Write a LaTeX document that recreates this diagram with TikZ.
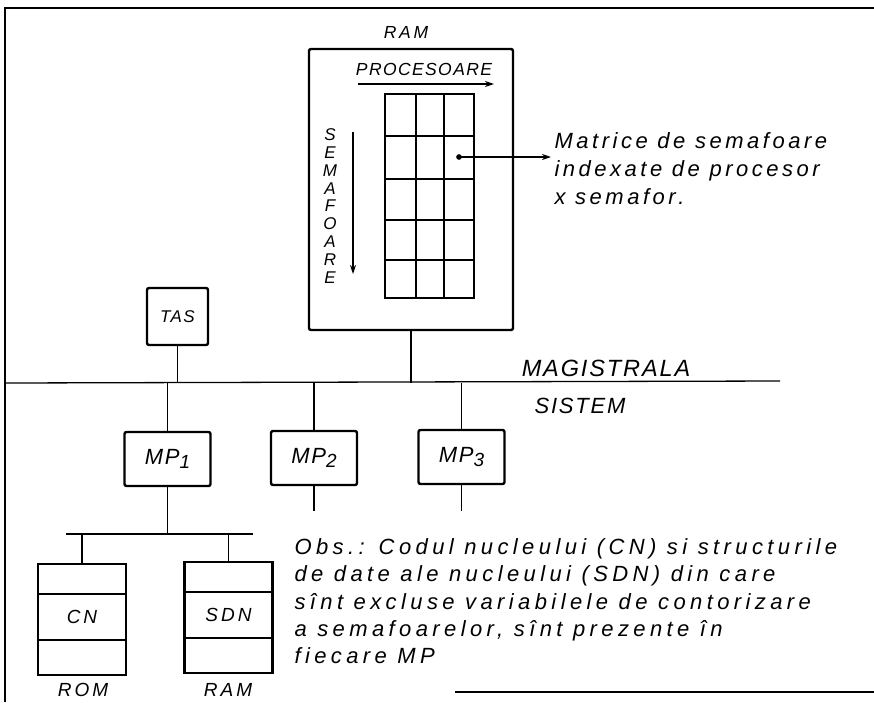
\documentclass[tikz,border=0pt]{standalone}
\usepackage{fontspec}
\newfontfamily\hand[LetterSpace=8]{Liberation Sans}
\newfontfamily\wide[LetterSpace=16]{Liberation Sans}
\newfontfamily\wider[LetterSpace=20]{Liberation Sans}
\usetikzlibrary{positioning,arrows.meta}

\newcommand{\mpname}[1]{MP\raisebox{-4pt}{\fontsize{19}{19}\selectfont #1}}

\begin{document}
\begin{tikzpicture}[
  x=1pt, y=-1pt,
  font=\wide\itshape\fontsize{19}{27}\selectfont,
  box/.style={draw, line width=2.4pt, rounded corners=2pt, inner sep=0pt},
  part/.style={draw, line width=2.4pt, inner sep=0pt, outer sep=0pt, minimum width=88pt},
  wire/.style={line width=1.3pt},
  arr/.style={-{Stealth[length=9pt,width=6pt]}, line width=1.3pt},
  note/.style={anchor=north west, align=left, font=\wider\itshape\fontsize{22}{27.3}\selectfont}
]
  \useasboundingbox (0,0) rectangle (874,702);
  % frame
  \draw[line width=1.6pt] (5,702) -- (5,8) -- (874,8);
  \draw[line width=1.6pt] (455,692) -- (874,692);

  % shared RAM with the semaphore matrix
  \node[font=\wide\itshape\fontsize{17.5}{20}\selectfont] (ramlbl) at (406,32) {RAM};
  \node[box, minimum width=204pt, minimum height=281pt] (ram) at (411,189.5) {};
  \node[font=\hand\itshape\fontsize{17.5}{20}\selectfont] (proc) at (424,69) {PROCESOARE};
  \coordinate (pa) at (358,84);
  \coordinate (pb) at (494,84);
  \draw[arr] (pa) -- (pb);
  \node[align=center, font=\hand\itshape\fontsize{17}{17.9}\selectfont] (sem) at (330,206)
    {S\\E\\M\\A\\F\\O\\A\\R\\E};
  \coordinate (sa) at (353,132);
  \coordinate (sb) at (353,274);
  \draw[arr] (sa) -- (sb);
  \node[draw, line width=2.4pt, inner sep=0pt, minimum width=89pt, minimum height=204pt]
    (mat) at (429.5,196) {};
  \foreach \c in {416,444}
    \draw[line width=2pt] (\c,94) -- (\c,298);
  \foreach \r in {136,179,220,260}
    \draw[line width=2pt] (385,\r) -- (474,\r);
  \node[circle, fill, inner sep=2pt] (dot) at (459,157) {};
  \node[note, font=\wide\itshape\fontsize{22}{28}\selectfont] (mtx) at (551,129)
    {Matrice de semafoare\\indexate de procesor\\x semafor.};
  \draw[arr] (dot.center) -- (dot -| mtx.west);

  % TAS and the system bus
  \node[box, minimum width=61pt, minimum height=57pt, font=\hand\itshape\fontsize{17}{20}\selectfont]
    (tas) at (177.5,316.5) {TAS};
  \coordinate (busL) at (5,383);
  \coordinate (busR) at (780,381);
  \draw[wire] (busL) -- (busR);
  \draw[wire] (tas) -- (tas |- busL);
  \draw[wire] (ram) -- (ram |- busL);
  \node[font=\hand\itshape\fontsize{23.5}{25}\selectfont] (mag) at (606,368) {MAGISTRALA};
  \node[font=\hand\itshape\fontsize{22}{25}\selectfont] (sist) at (580,406) {SISTEM};

  % processors
  \node[box, minimum width=86pt, minimum height=54pt, font=\hand\itshape\fontsize{22}{25}\selectfont]
    (mp1) at (167.5,459) {\mpname{1}};
  \node[box, minimum width=86pt, minimum height=54pt, font=\hand\itshape\fontsize{22}{25}\selectfont]
    (mp2) at (314,458) {\mpname{2}};
  \node[box, minimum width=86pt, minimum height=54pt, font=\hand\itshape\fontsize{22}{25}\selectfont]
    (mp3) at (461.5,457) {\mpname{3}};
  \draw[wire] (mp1 |- busL) -- (mp1);
  \draw[wire] (mp2 |- busL) -- (mp2);
  \draw[wire] (mp3 |- busL) -- (mp3);
  \coordinate (mp2s) at (314,511);
  \coordinate (mp3s) at (461.5,511);
  \draw[wire] (mp2) -- (mp2s);
  \draw[wire] (mp3) -- (mp3s);

  % local bus of MP1
  \coordinate (sbL) at (66,534);
  \coordinate (sbR) at (253,534);
  \draw[wire] (sbL) -- (sbR);
  \draw[wire] (mp1) -- (mp1 |- sbL);

  % local memories
  \node[part, minimum height=30pt] (romtop) at (82,579) {};
  \node[part, minimum height=46pt, below=0pt of romtop] (rom) {CN};
  \node[part, minimum height=35pt, below=0pt of rom] (rombot) {};
  \node[part, minimum height=30pt] (lramtop) at (228.5,577) {};
  \node[part, minimum height=46pt, below=0pt of lramtop] (lram) {SDN};
  \node[part, minimum height=35pt, below=0pt of lram] (lrambot) {};
  \draw[wire] (romtop |- sbL) -- (romtop);
  \draw[wire] (lramtop |- sbL) -- (lramtop);
  \node (romlbl) at (83,690) {ROM};
  \node (lramlbl) at (228,690) {RAM};

  % note
  \node[note] (obs) at (291,535)
    {Obs.: Codul nucleului (CN) si structurile\\
     de date ale nucleului (SDN) din care\\
     sînt excluse variabilele de contorizare\\
     a semafoarelor, sînt prezente în\\
     fiecare MP};
\end{tikzpicture}
\end{document}
